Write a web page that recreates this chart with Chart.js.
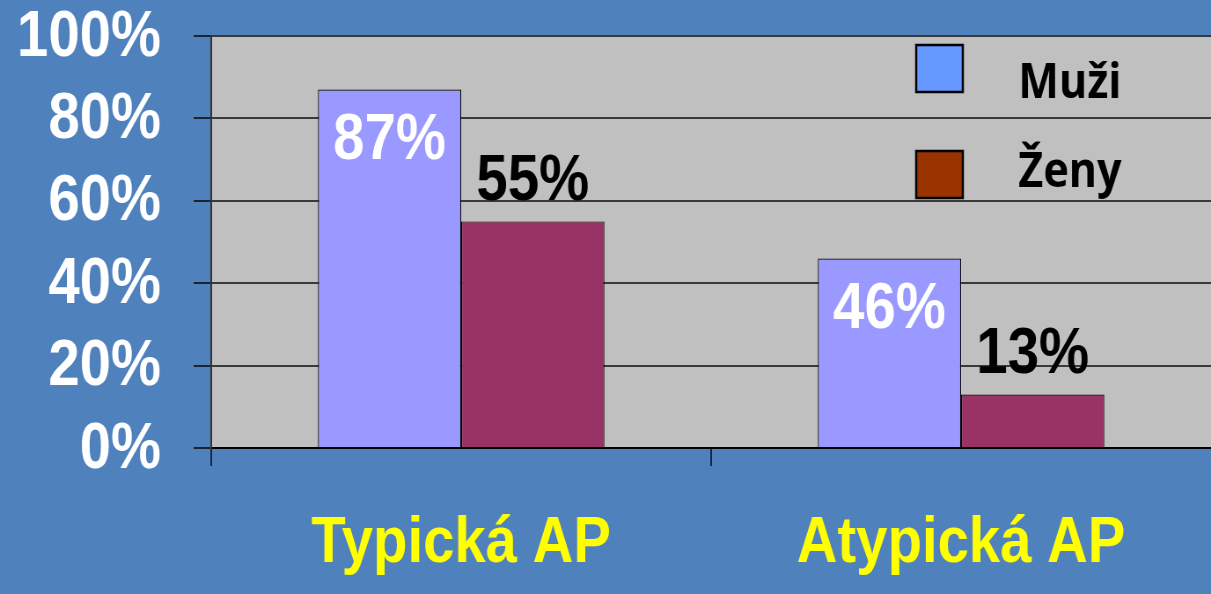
<!DOCTYPE html>
<html lang="cs">
<head>
<meta charset="UTF-8">
<title>Typická a atypická AP</title>
<script src="https://cdn.jsdelivr.net/npm/chart.js"></script>
<style>
  html, body { margin: 0; padding: 0; background: #4F81BD; overflow: hidden; }
  #apChart { position: absolute; left: 0; top: 0; }
</style>
</head>
<body>
<!-- canvas is drawn wider and narrowed by CSS, giving the condensed lettering -->
<canvas id="apChart" width="1376" height="594" style="width:1211px;height:594px"></canvas>
<script>
// data
const categories = ["Typická AP", "Atypická AP"];
const seriesNames = ["Muži", "Ženy"];
const muzi = [87, 46];
const zeny = [55, 13];
const yTicks = [0, 20, 40, 60, 80, 100];

// styles
const barColors = ["#9999FF", "#993366"];
const legendColors = ["#6699FF", "#993300"];
const labelFont = "bold 64px 'Liberation Sans', Arial, sans-serif";

// grey plot area
const plotBackground = {
    id: "plotBackground",
    beforeDraw(chart) {
        const { ctx, chartArea: a } = chart;
        ctx.save();
        ctx.fillStyle = "#C0C0C0";
        ctx.fillRect(a.left, a.top, a.right - a.left, a.bottom - a.top);
        ctx.restore();
    }
};

// value labels: inside the first series, above the second
const barLabels = {
    id: "barLabels",
    afterDatasetsDraw(chart) {
        const ctx = chart.ctx;
        ctx.save();
        ctx.font = labelFont;
        ctx.textAlign = "center";
        ctx.textBaseline = "middle";
        chart.data.datasets.forEach((ds, di) => {
            chart.getDatasetMeta(di).data.forEach((bar, i) => {
                const text = ds.data[i] + "%";
                if (di === 0) {
                    ctx.fillStyle = "#FFFFFF";
                    ctx.fillText(text, bar.x, bar.y + 52);
                } else {
                    ctx.fillStyle = "#000000";
                    ctx.fillText(text, bar.x, bar.y - 39);
                }
            });
        });
        ctx.restore();
    }
};

// legend in the upper right corner of the plot
const sideLegend = {
    id: "sideLegend",
    afterDraw(chart) {
        const ctx = chart.ctx;
        const rows = [
            { boxTop: 45, baseline: 98 },
            { boxTop: 151, baseline: 187 }
        ];
        ctx.save();
        seriesNames.forEach((name, i) => {
            const r = rows[i];
            ctx.fillStyle = legendColors[i];
            ctx.fillRect(1041, r.boxTop, 53, 47);
            ctx.lineWidth = 2.5;
            ctx.strokeStyle = "#000";
            ctx.strokeRect(1041, r.boxTop, 53, 47);
            ctx.fillStyle = "#000";
            ctx.font = "bold 49px 'Open Sans', Lato, sans-serif";
            ctx.textAlign = "left";
            ctx.textBaseline = "alphabetic";
            ctx.fillText(name, 1157, r.baseline);
        });
        ctx.restore();
    }
};

new Chart(document.getElementById("apChart"), {
    type: "bar",
    data: {
        labels: categories,
        datasets: [
            { label: seriesNames[0], data: muzi, backgroundColor: barColors[0], borderColor: "#000", borderWidth: 1.2 },
            { label: seriesNames[1], data: zeny, backgroundColor: barColors[1], borderColor: "#000", borderWidth: 1.2 }
        ]
    },
    options: {
        responsive: false,
        animation: false,
        devicePixelRatio: 1,
        layout: { padding: { top: 36, right: 0, bottom: 0, left: 0 } },
        datasets: { bar: { barPercentage: 1, categoryPercentage: 0.573 } },
        plugins: { legend: { display: false }, tooltip: { enabled: false } },
        scales: {
            x: {
                afterFit(scale) { scale.height = 146; },
                border: { color: "#000", width: 2 },
                grid: {
                    drawOnChartArea: false,
                    drawTicks: true,
                    tickLength: 18,
                    // no tick mark on the closing boundary at the right edge
                    color: c => (c.tick ? "#1c2433" : "rgba(0,0,0,0)"),
                    lineWidth: 2
                },
                ticks: {
                    color: "#FFFF00",
                    padding: 46,
                    font: { family: "'Liberation Sans', Arial, sans-serif", size: 64, weight: "bold", lineHeight: 1 }
                }
            },
            y: {
                min: 0,
                max: 100,
                afterFit(scale) {
                    scale.width = 240;
                    scale.paddingTop = 0;
                    scale.paddingBottom = 0;
                },
                afterBuildTicks(scale) { scale.ticks = yTicks.map(v => ({ value: v })); },
                border: { color: "#333", width: 2 },
                grid: { color: "#3a3a3a", lineWidth: 2, tickLength: 20, tickColor: "#1c2433" },
                ticks: {
                    color: "#FFFFFF",
                    padding: 37,
                    labelOffset: 2,
                    callback: v => v + "%",
                    font: { family: "'Liberation Sans', Arial, sans-serif", size: 64, weight: "bold", lineHeight: 1 }
                }
            }
        }
    },
    plugins: [plotBackground, barLabels, sideLegend]
});
</script>
</body>
</html>
